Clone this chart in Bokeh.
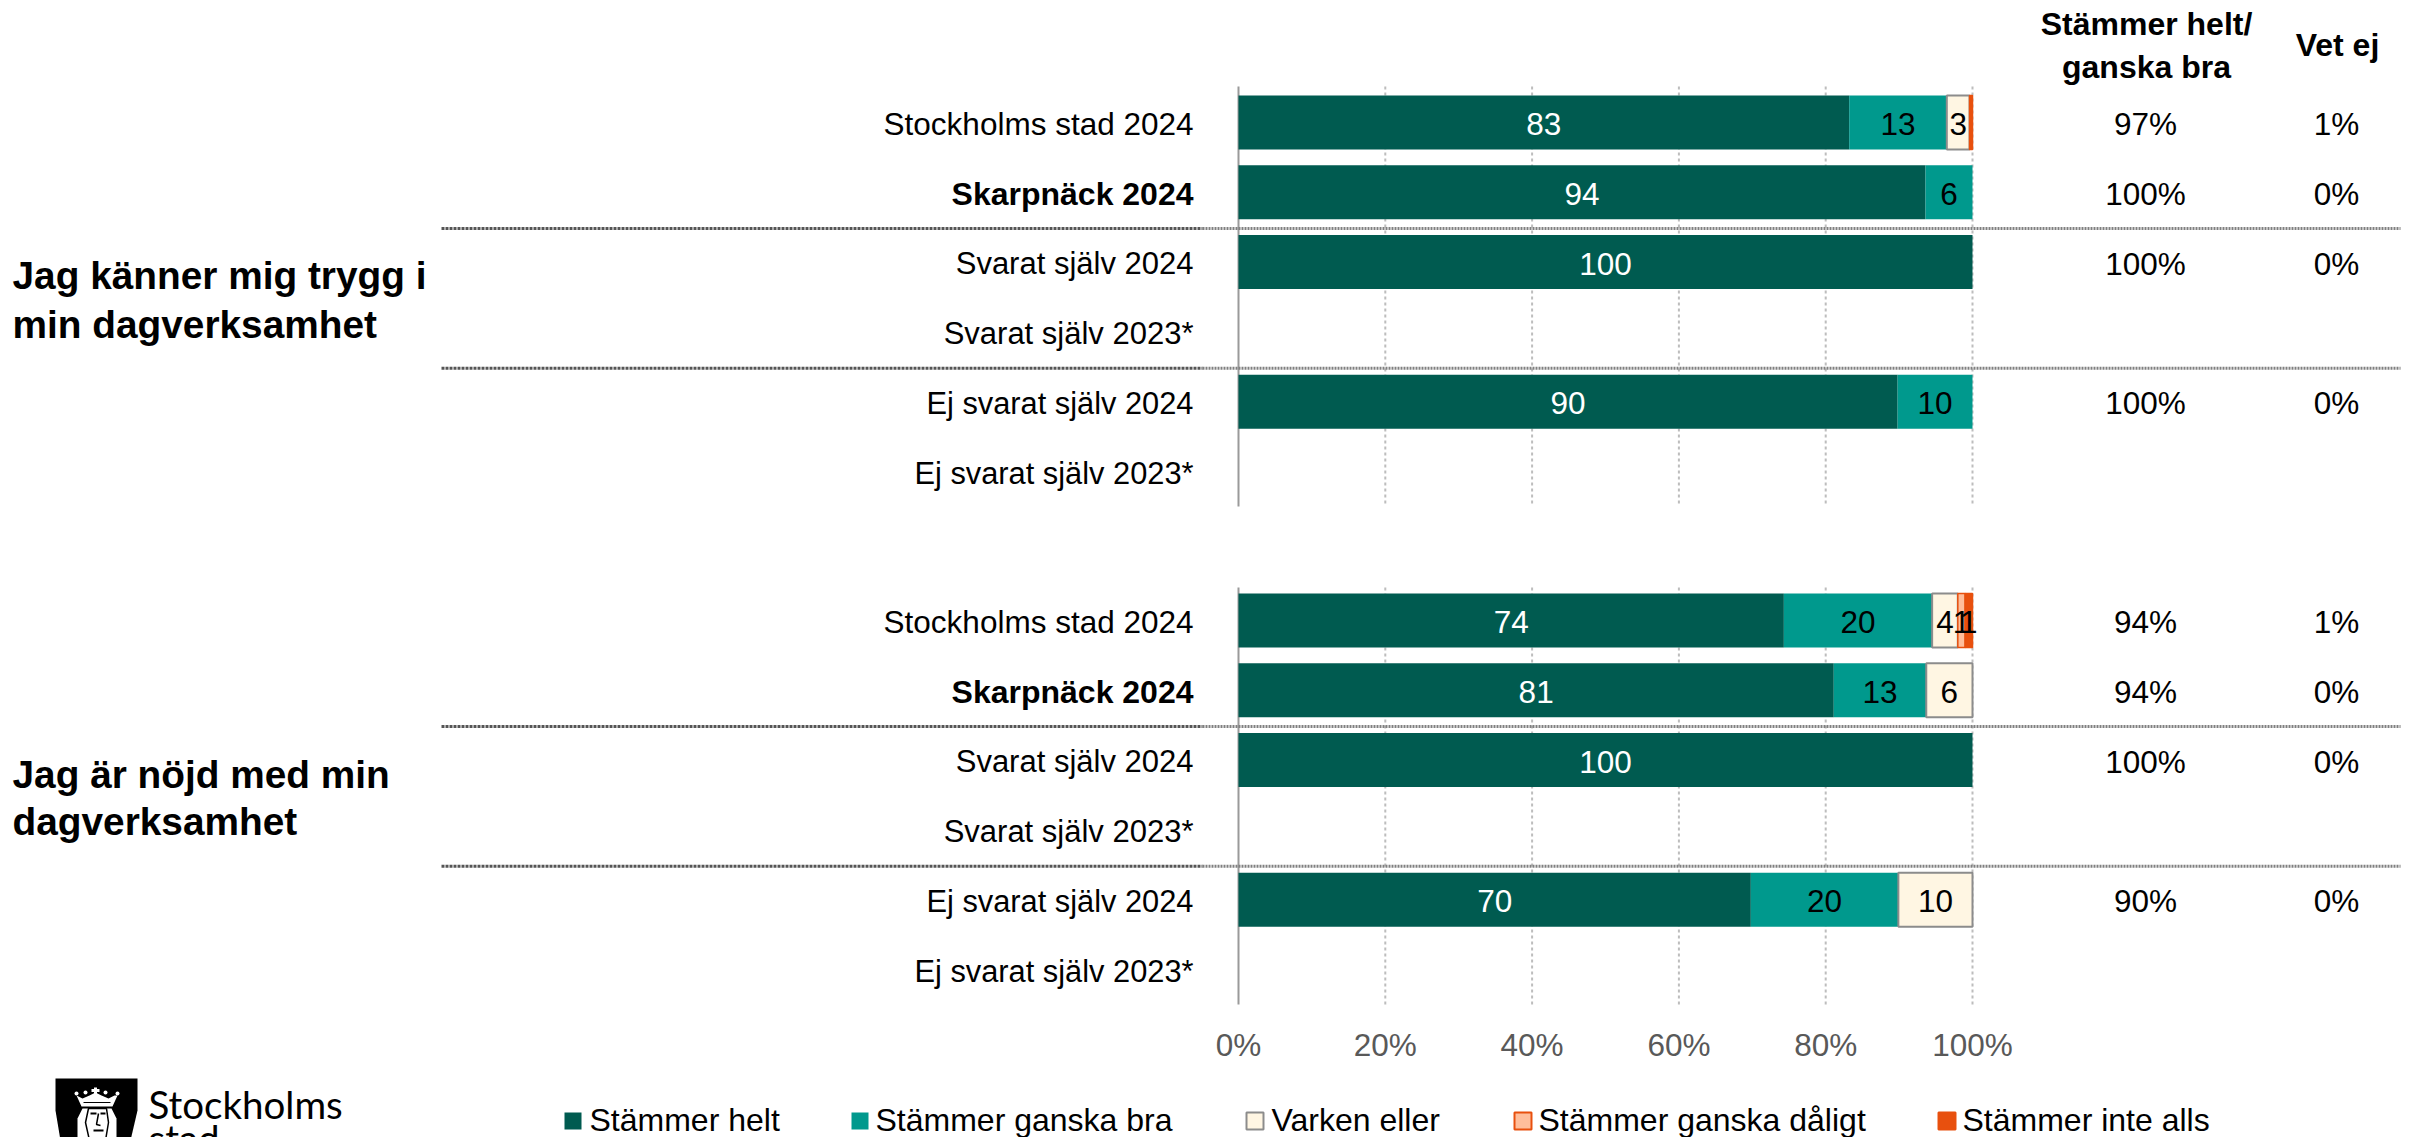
from bokeh.plotting import figure
from bokeh.layouts import column
from bokeh.models import FixedTicker, PrintfTickFormatter, ColumnDataSource, Range1d
from bokeh.core.properties import value
from bokeh.embed import file_html
from bokeh.resources import INLINE

# ---------- data ----------
row_labels = ["Stockholms stad 2024", "Skarpnäck 2024", "Svarat själv 2024",
              "Svarat själv 2023*", "Ej svarat själv 2024", "Ej svarat själv 2023*"]
questions = [["Jag känner mig trygg i", "min dagverksamhet"],
             ["Jag är nöjd med min", "dagverksamhet"]]
series_names = ["Stämmer helt", "Stämmer ganska bra", "Varken eller",
                "Stämmer ganska dåligt", "Stämmer inte alls"]
helt_q1 = [83.2, 93.6, 100, 0, 89.8, 0]
bra_q1 = [13.3, 6.4, 0, 0, 10.2, 0]
varken_q1 = [3.1, 0, 0, 0, 0, 0]
daligt_q1 = [0, 0, 0, 0, 0, 0]
inte_q1 = [0.4, 0, 0, 0, 0, 0]
helt_q2 = [74.3, 81.1, 100, 0, 69.8, 0]
bra_q2 = [20.2, 12.6, 0, 0, 20.1, 0]
varken_q2 = [3.5, 6.3, 0, 0, 10.1, 0]
daligt_q2 = [1.0, 0, 0, 0, 0, 0]
inte_q2 = [1.0, 0, 0, 0, 0, 0]
sum_q1 = ["97%", "100%", "100%", "", "100%", ""]
vet_q1 = ["1%", "0%", "0%", "", "0%", ""]
sum_q2 = ["94%", "94%", "100%", "", "90%", ""]
vet_q2 = ["1%", "0%", "0%", "", "0%", ""]
x_ticks = [0, 20, 40, 60, 80, 100]

# ---------- styles ----------
FILL = ["#005B50", "#00998D", "#FFF6E3", "#FFBE9B", "#E8500E"]
LINE = [None, None, "#8C8C8C", "#E8500E", "#E8500E"]
TXT = ["white", "black", "black", "black", "black"]
FONT = value("Liberation Sans")
FS = "31.5px"
ROW_FS = ["31.5px", "32px", "31px", "31px", "30.8px", "30.8px"]

W, H_MAIN, H_BOT = 2412, 1075, 62
PX_PCT = 7.34
X0 = 1238
PITCH = 69.8
Y0 = 122
OFFSET2 = 498 / PITCH
FRAME_BOTTOM = 1012
TXT_DY = 1.5 / PITCH   # texts sit slightly below the bar centres


def rx(px):
    return (px - X0) / PX_PCT


def ry(px):
    return (px - Y0) / PITCH


p = figure(width=W, height=H_MAIN, output_backend="svg", toolbar_location=None,
           x_range=Range1d(rx(0), rx(W)),
           y_range=Range1d(ry(FRAME_BOTTOM), ry(0)),
           min_border_left=0, min_border_right=0, min_border_top=0,
           min_border_bottom=H_MAIN - FRAME_BOTTOM,
           outline_line_color=None)
p.grid.visible = False
p.yaxis.visible = False
ax = p.xaxis[0]
ax.ticker = FixedTicker(ticks=x_ticks)
ax.formatter = PrintfTickFormatter(format="%d%%")
ax.bounds = (0, 100)
ax.axis_line_color = None
ax.major_tick_line_color = None
ax.minor_tick_line_color = None
ax.major_label_text_color = "#595959"
ax.major_label_text_font = "Liberation Sans"
ax.major_label_text_font_size = FS
ax.major_label_standoff = 8

panels = [
    (0.0, [helt_q1, bra_q1, varken_q1, daligt_q1, inte_q1], sum_q1, vet_q1, questions[0], ry(275), ry(324), 36),
    (OFFSET2, [helt_q2, bra_q2, varken_q2, daligt_q2, inte_q2], sum_q2, vet_q2, questions[1], ry(774), ry(821), 33),
]
BAR_H = 54 / PITCH

for off, series, sums, vets, q, qy1, qy2, rise in panels:
    rows = [off + i for i in range(len(row_labels))]
    trows = [r + TXT_DY for r in rows]
    top, bot = off - rise / PITCH, off + 384 / PITCH

    for t in x_ticks[1:]:
        p.line([t, t], [top, bot], line_color="#BDBDBD", line_width=2, line_dash="3 3")
    p.line([0, 0], [top, bot], line_color="#9A9A9A", line_width=2)

    left = [0.0] * len(rows)
    for k, vals in enumerate(series):
        right = [a + b for a, b in zip(left, vals)]
        keep = [i for i, v in enumerate(vals) if v > 0]
        src = ColumnDataSource(dict(y=[rows[i] for i in keep],
                                    l=[left[i] for i in keep],
                                    r=[right[i] for i in keep]))
        kw = dict(line_color=None)
        if LINE[k]:
            kw = dict(line_color=LINE[k], line_width=2 if k == 2 else 1.5)
        p.hbar(y="y", left="l", right="r", height=BAR_H, fill_color=FILL[k], source=src, **kw)
        lab = [i for i in keep if vals[i] >= 0.5]
        p.text([(left[i] + right[i]) / 2 for i in lab], [trows[i] for i in lab],
               text=[str(round(vals[i])) for i in lab], text_align="center",
               text_baseline="middle", text_font=FONT, text_font_size=FS,
               text_color=TXT[k])
        left = right

    for s in (1.52, 3.52):
        p.line([rx(441), rx(1202)], [off + s] * 2, line_color="#555555", line_width=3, line_dash="3 1")
        p.line([rx(1202), rx(2400)], [off + s] * 2, line_color="#808080", line_width=3, line_dash="2 1")

    for i, lb in enumerate(row_labels):
        p.text([rx(1193)], [trows[i]], text=[lb], text_align="right", text_baseline="middle",
               text_font=FONT, text_font_size=ROW_FS[i], text_color="black",
               text_font_style="bold" if i == 1 else "normal")

    p.text([rx(2145)] * len(rows), trows, text=sums, text_align="center", text_baseline="middle",
           text_font=FONT, text_font_size=FS, text_color="black")
    p.text([rx(2336)] * len(rows), trows, text=vets, text_align="center", text_baseline="middle",
           text_font=FONT, text_font_size=FS, text_color="black")

    p.text([rx(12)] * 2, [qy1, qy2], text=q, text_align="left", text_baseline="middle",
           text_font=FONT, text_font_size="38.8px", text_font_style="bold", text_color="black")

p.text([rx(2146), rx(2146), rx(2337)], [ry(23), ry(66), ry(44)],
       text=["Stämmer helt/", "ganska bra", "Vet ej"], text_align="center",
       text_baseline="middle", text_font=FONT, text_font_size="32px",
       text_font_style="bold", text_color="black")

# ---------- bottom strip: logo + legend ----------
b = figure(width=W, height=H_BOT, output_backend="svg", toolbar_location=None,
           x_range=Range1d(0, W),
           y_range=Range1d(H_MAIN + H_BOT, H_MAIN),
           min_border_left=0, min_border_right=0, min_border_top=0, min_border_bottom=0,
           outline_line_color=None)
b.axis.visible = False
b.grid.visible = False

LEG_BOX = [564, 851, 1246, 1514, 1938]
LEG_TXT = [589, 875, 1271, 1538, 1962]
for k, name in enumerate(series_names):
    kw = dict(line_color=LINE[k], line_width=2) if LINE[k] else dict(line_color=None)
    b.quad(left=LEG_BOX[k], right=LEG_BOX[k] + 17, top=1112, bottom=1129, fill_color=FILL[k], **kw)
    b.text([LEG_TXT[k]], [1119], text=[name], text_baseline="middle", text_font=FONT,
           text_font_size="32px", text_color="black")

# logo (shield with crown and face)
b.patch([55, 137, 137, 130, 60, 55], [1078, 1078, 1110, 1140, 1140, 1110], fill_color="black", line_color=None)
b.patch([76, 82, 89, 95, 101, 108, 114, 117, 112, 81],
        [1095, 1098, 1095, 1092, 1095, 1098, 1095, 1095, 1106, 1106],
        fill_color="white", line_color=None)
b.line([95, 95], [1087, 1098], line_color="white", line_width=3)
b.line([91, 99], [1090, 1090], line_color="white", line_width=3)
b.scatter([76, 85, 105, 117], [1093, 1092, 1092, 1093], size=4, fill_color="white", line_color=None)
b.line([83, 110], [1102, 1102], line_color="black", line_width=1)
b.patch([82, 111, 116, 116, 77, 77],
        [1108, 1108, 1118, 1140, 1140, 1118],
        fill_color="white", line_color=None)
b.patch([88, 106, 108, 105, 89, 85], [1108, 1108, 1122, 1140, 1140, 1122], fill_color="white", line_color="black", line_width=1.5)
b.line([90, 96], [1113, 1113], line_color="black", line_width=2)
b.line([100, 105], [1113, 1113], line_color="black", line_width=2)
b.line([98, 96, 100], [1113, 1124, 1125], line_color="black", line_width=1.5)
b.line([93, 103], [1130, 1130], line_color="black", line_width=2)
b.text([148], [1103.5], text=["Stockholms"], text_baseline="middle", text_font=value("Lato"),
       text_font_size="38.5px", text_color="black")
b.text([148], [1137.5], text=["stad"], text_baseline="middle", text_font=value("Lato"),
       text_font_size="38.5px", text_color="black")

open("out.html", "w").write(file_html(column(p, b, spacing=0), INLINE))
